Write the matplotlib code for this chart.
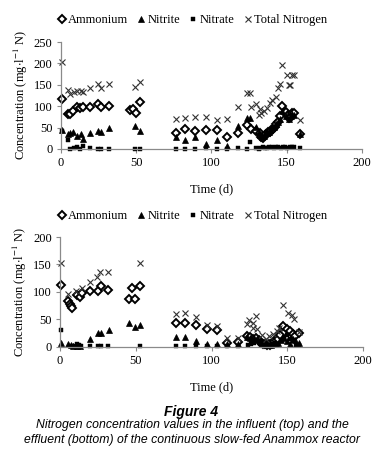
import matplotlib
matplotlib.use("Agg")
import matplotlib.pyplot as plt
from matplotlib.lines import Line2D

plt.rcParams["font.family"] = ["Liberation Serif", "DejaVu Serif"]
plt.rcParams["mathtext.fontset"] = "stix"

# ---- influent (top panel) ----
in_nh4_day = [0.5, 4.9, 6.4, 8.2, 10.8, 12.6, 14.4, 19.7, 24.8, 27.0, 31.8, 45.8, 48.0, 49.8, 52.9,
              76.8, 82.7, 89.4, 96.2, 103.7, 110.6, 117.7, 123.6, 126.5, 129.4, 132.0, 133.0, 134.2,
              135.4, 136.5, 137.6, 138.7, 139.8, 140.9, 142.0, 143.1, 144.2, 145.3, 147.1, 149.7,
              150.8, 151.8, 153.0, 153.7, 154.8, 158.6]
in_nh4 = [116, 82, 81, 89, 97, 96, 99, 97, 104, 99, 100, 91, 94, 85, 109,
          38, 46, 43, 44, 44, 29, 37, 56, 47, 42, 37, 29, 26,
          33, 35, 39, 40, 44, 47, 52, 58, 64, 78, 101, 87,
          79, 72, 75, 83, 85, 34]

in_no2_day = [0.5, 4.9, 6.4, 8.2, 10.8, 13.3, 14.8, 19.7, 24.8, 27.0, 31.8, 49.5, 52.9,
              76.8, 82.7, 89.4, 96.2, 103.7, 110.6, 117.7, 123.6, 125.4, 129.4, 131.6, 132.5,
              133.5, 134.7, 135.8, 136.9, 138.0, 139.2, 140.5, 141.8, 143.1, 144.2, 145.3,
              147.1, 149.7, 151.5, 152.8, 153.7, 154.8, 158.6]
in_no2 = [45, 34, 38, 39, 30, 34, 23, 37, 41, 40, 48, 54, 42,
          28, 22, 28, 12, 20, 7, 54, 72, 73, 52, 40, 32,
          28, 30, 35, 38, 40, 45, 48, 52, 58, 62, 70,
          88, 76, 70, 78, 82, 80, 35]

in_no3_day = [0.5, 4.9, 6.4, 8.6, 10.8, 12.6, 14.8, 19.7, 24.8, 27.0, 31.8, 49.5, 52.9,
              76.8, 82.7, 89.4, 96.2, 103.7, 110.6, 117.7, 123.6, 125.9, 129.4, 131.6, 132.5,
              134.0, 135.5, 137.0, 138.5, 140.0, 141.5, 143.0, 144.5, 146.0, 147.5, 149.0,
              150.5, 152.0, 153.5, 155.0, 158.6]
in_no3 = [42, 20, 1, 2, 5, 1, 8, 3, 1, 1, 1, 1, 1,
          1, 1, 1, 2, 1, 1, 3, 1, 16, 2, 1, 3,
          4, 2, 3, 5, 4, 3, 5, 4, 3, 4, 5,
          3, 4, 5, 4, 2]

in_tn_day = [0.5, 4.9, 6.4, 8.6, 10.8, 13.3, 14.8, 19.7, 24.8, 26.5, 31.8, 49.5, 52.9,
             76.8, 82.7, 89.4, 96.2, 103.7, 110.6, 117.7, 123.6, 125.4, 126.5, 129.4, 131.6,
             132.0, 133.0, 134.7, 136.9, 139.2, 140.5, 143.1, 144.2, 145.3, 147.1, 150.2,
             151.5, 152.0, 153.5, 154.6, 158.6]
in_tn = [203, 139, 128, 134, 135, 135, 134, 142, 152, 142, 151, 144, 156,
         69, 72, 74, 74, 68, 69, 97, 132, 132, 99, 104, 79,
         93, 84, 89, 95, 107, 114, 122, 142, 153, 197, 173,
         150, 150, 172, 173, 68]

# ---- effluent (bottom panel) ----
ef_nh4_day = [0.7, 5.0, 6.6, 7.5, 8.1, 11.0, 13.2, 14.7, 19.8, 24.9, 27.0, 31.9, 45.5, 47.7, 49.5,
              52.8, 76.6, 82.5, 89.8, 96.8, 103.4, 110.5, 117.7, 123.6, 125.4, 127.2, 129.4,
              131.2, 132.5, 133.8, 135.0, 136.3, 137.6, 138.9, 140.2, 141.5, 142.8, 144.1,
              145.4, 147.4, 149.7, 151.8, 153.7, 155.2, 158.0]
ef_nh4 = [113, 84, 79, 74, 71, 95, 91, 98, 102, 102, 110, 104, 87, 107, 88,
          111, 43, 44, 40, 32, 31, 8, 9, 20, 18, 15, 17,
          12, 8, 6, 5, 4, 6, 3, 8, 10, 12, 15,
          22, 39, 33, 29, 24, 20, 25]

ef_no2_day = [0.7, 5.0, 7.0, 8.5, 11.0, 13.2, 19.8, 25.0, 27.0, 32.0, 45.5, 49.5, 52.8,
              76.6, 82.5, 89.8, 96.8, 103.4, 110.5, 117.7, 123.6, 125.4, 128.0, 130.5, 132.0,
              133.5, 135.0, 136.5, 138.0, 139.5, 141.0, 142.5, 144.0, 146.0, 148.0, 150.0,
              152.0, 153.5, 155.0, 158.0]
ef_no2 = [8, 5, 3, 1, 2, 1, 14, 25, 25, 31, 43, 37, 40,
          19, 18, 10, 6, 5, 5, 5, 18, 17, 16, 14, 10,
          7, 5, 4, 3, 3, 5, 6, 8, 12, 16, 10,
          5, 14, 12, 7]

ef_no3_day = [0.7, 8.0, 10.0, 11.0, 12.5, 14.0, 19.8, 24.9, 27.0, 31.9, 52.8,
              76.6, 82.5, 89.8, 96.8, 103.4, 110.5, 117.7, 124.0, 126.0, 128.0, 130.0,
              132.0, 134.0, 136.0, 138.0, 140.0, 142.0, 144.0, 146.0, 148.0, 150.0,
              152.0, 154.0, 156.0, 158.0]
ef_no3 = [31, 1, 2, 5, 3, 2, 1, 1, 1, 1, 1,
          1, 1, 2, 1, 1, 1, 2, 3, 5, 8, 10,
          6, 4, 2, 3, 5, 8, 6, 12, 18, 22,
          15, 10, 4, 3]

ef_tn_day = [0.7, 5.0, 10.6, 14.7, 19.8, 24.2, 26.4, 31.9, 52.8, 76.6, 82.5, 89.8, 96.8,
             103.4, 110.5, 117.7, 123.2, 125.0, 127.2, 127.6, 129.4, 130.0, 133.0, 136.0,
             138.0, 140.8, 143.0, 144.7, 147.0, 150.7, 152.9, 154.5, 158.0]
ef_tn = [152, 96, 102, 107, 119, 128, 137, 137, 152, 60, 61, 55, 40,
         38, 16, 16, 41, 49, 43, 34, 57, 32, 22, 15,
         20, 23, 29, 34, 77, 61, 58, 50, 28]

series_names = ["Ammonium", "Nitrite", "Nitrate", "Total Nitrogen"]

styles = {
    "Ammonium": dict(marker="D", markersize=4.2, markerfacecolor="white",
                     markeredgecolor="black", markeredgewidth=1.4),
    "Nitrite": dict(marker="^", markersize=3.8, markerfacecolor="black",
                    markeredgecolor="black", markeredgewidth=0.5),
    "Nitrate": dict(marker="s", markersize=2.6, markerfacecolor="black",
                    markeredgecolor="black", markeredgewidth=0.3),
    "Total Nitrogen": dict(marker="x", markersize=4.5, markeredgecolor="#333333",
                           markeredgewidth=0.8),
}

panels = [
    dict(rect=[0.158, 0.681, 0.782, 0.229], ymax=250, legend_y=0.957,
         data=[(in_nh4_day, in_nh4), (in_no2_day, in_no2), (in_no3_day, in_no3), (in_tn_day, in_tn)]),
    dict(rect=[0.156, 0.257, 0.787, 0.2355], ymax=200, legend_y=0.537,
         data=[(ef_nh4_day, ef_nh4), (ef_no2_day, ef_no2), (ef_no3_day, ef_no3), (ef_tn_day, ef_tn)]),
]

fig = plt.figure(figsize=(3.85, 4.67), dpi=100)

for p in panels:
    ax = fig.add_axes(p["rect"])
    for name, (days, vals) in zip(series_names, p["data"]):
        ax.plot(days, vals, linestyle="none", clip_on=False, **styles[name])
    ax.set_xlim(0, 200)
    ax.set_ylim(0, p["ymax"])
    ax.set_xticks(range(0, 201, 50))
    ax.set_yticks(range(0, p["ymax"] + 1, 50))
    for s in ["top", "right"]:
        ax.spines[s].set_visible(False)
    for s in ["left", "bottom"]:
        ax.spines[s].set_color("#8a8a8a")
        ax.spines[s].set_linewidth(0.9)
    ax.tick_params(direction="out", length=3, width=0.8, color="#8a8a8a",
                   labelsize=9, pad=3)
    ax.set_xlabel("Time (d)", fontsize=9, labelpad=10)
    ax.set_ylabel(r"Concentration (mg$\cdot$l$^{-1}$ N)", fontsize=9, labelpad=3)

    handles = [Line2D([], [], linestyle="none", **styles[n]) for n in series_names]
    fig.legend(handles, series_names, loc="center", bbox_to_anchor=(0.5, p["legend_y"]),
               ncol=4, frameon=False, fontsize=9, handlelength=0.6, handletextpad=0.2,
               columnspacing=0.75, borderaxespad=0)

cap = ["Liberation Sans", "DejaVu Sans"]
fig.text(0.495, 1 - 412 / 467, "Figure 4", ha="center", va="center", family=cap,
         style="italic", weight="bold", fontsize=10)
fig.text(0.5, 1 - 425 / 467, "Nitrogen concentration values in the influent (top) and the",
         ha="center", va="center", family=cap, style="italic", fontsize=8.8)
fig.text(0.5, 1 - 440 / 467, "effluent (bottom) of the continuous slow-fed Anammox reactor",
         ha="center", va="center", family=cap, style="italic", fontsize=8.8)

fig.savefig("out.png", dpi=100)
